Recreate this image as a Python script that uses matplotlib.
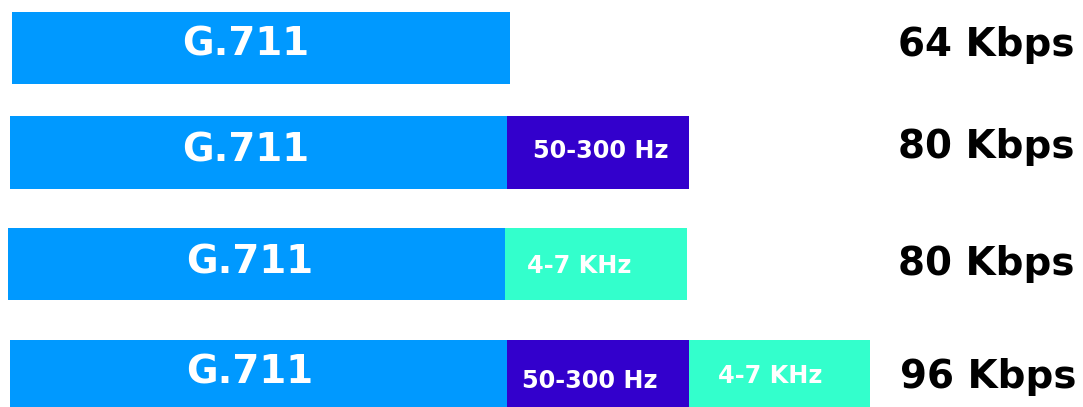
import matplotlib
matplotlib.use("Agg")
import matplotlib.pyplot as plt

# Data
rows = ["G.711", "G.711 + 50-300 Hz", "G.711 + 4-7 KHz", "G.711 + 50-300 Hz + 4-7 KHz"]
segment_labels = [["G.711"],
                  ["G.711", "50-300 Hz"],
                  ["G.711", "4-7 KHz"],
                  ["G.711", "50-300 Hz", "4-7 KHz"]]
segment_widths = [[498],
                  [497, 182],
                  [497, 182],
                  [497, 182, 181]]
bitrate_labels = ["64 Kbps", "80 Kbps", "80 Kbps", "96 Kbps"]

colors = {"G.711": "#0099FF", "50-300 Hz": "#3300CC", "4-7 KHz": "#33FFCC"}
label_sizes = {"G.711": 27.8, "50-300 Hz": 17.3, "4-7 KHz": 17.3}

fig = plt.figure(figsize=(10.83, 4.07), dpi=100)
ax = fig.add_axes([0, 0, 1, 1])
ax.set_xlim(0, 1083)
ax.set_ylim(407, 0)
ax.axis("off")

# layout (pixel-like coordinates)
row_y = [47.5, 152.5, 264, 376]
row_h = [72, 73, 72, 72]
row_x0 = [12, 10, 8, 10]
# text anchors: (left x, baseline y) per segment
seg_text_pos = [[(182, 56)],
                [(182, 162), (533, 158)],
                [(186, 273), (527, 273)],
                [(186, 384), (522, 388), (718, 383)]]
kb_pos = [(1075, 56), (1075, 158), (1074, 275), (1077, 388)]

for i, (labs, widths) in enumerate(zip(segment_labels, segment_widths)):
    left = row_x0[i]
    for j, (lab, w) in enumerate(zip(labs, widths)):
        ax.barh(row_y[i], w, left=left, height=row_h[i], color=colors[lab],
                edgecolor="none")
        tx, ty = seg_text_pos[i][j]
        ax.text(tx, ty, lab, color="white", fontsize=label_sizes[lab],
                fontweight="bold", ha="left", va="baseline",
                family="DejaVu Sans")
        left += w
    kx, ky = kb_pos[i]
    ax.text(kx, ky, bitrate_labels[i], color="black",
            fontsize=28, fontweight="bold", ha="right", va="baseline",
            family="DejaVu Sans")

fig.savefig("out.png", dpi=100)
